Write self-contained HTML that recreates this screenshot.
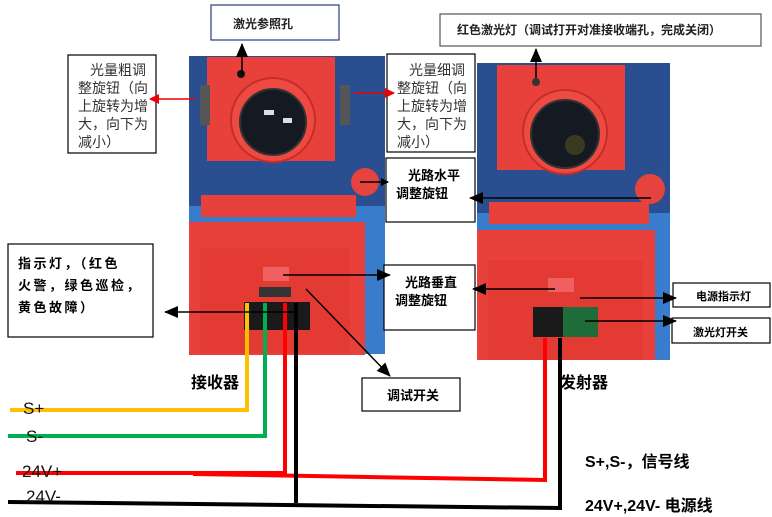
<!DOCTYPE html>
<html><head><meta charset="utf-8"><style>
html,body{margin:0;padding:0;background:#fff;width:772px;height:517px;overflow:hidden}
svg{display:block}
text{font-family:"Liberation Sans","Noto Sans CJK SC",sans-serif}
.b{font-weight:bold}
</style></head><body>
<svg width="772" height="517" viewBox="0 0 772 517" xmlns="http://www.w3.org/2000/svg">
<defs>
<marker id="ak" markerWidth="8" markerHeight="8" refX="7" refY="4" orient="auto" markerUnits="userSpaceOnUse"><path d="M0,0L8,4L0,8z" fill="#000"/></marker>
<marker id="ar" markerWidth="10" markerHeight="10" refX="9" refY="5" orient="auto" markerUnits="userSpaceOnUse"><path d="M0,0L10,5L0,10z" fill="#e00"/></marker>
<marker id="ab" markerWidth="14" markerHeight="12" refX="13" refY="6" orient="auto" markerUnits="userSpaceOnUse"><path d="M0,0L14,6L0,12z" fill="#000"/></marker>
</defs>
<!-- receiver photo -->
<rect x="189" y="56" width="196" height="298" fill="#3a7ccc"/>
<rect x="189" y="56" width="196" height="150" fill="#2a4f90"/>
<rect x="207" y="57" width="128" height="104" fill="#e8403a"/>
<rect x="200" y="85" width="10" height="40" fill="#555"/>
<rect x="340" y="85" width="10" height="40" fill="#555"/>
<circle cx="273" cy="120" r="42" fill="#ee4a42" stroke="#c42e2a" stroke-width="2"/>
<circle cx="273" cy="122" r="33" fill="#151a22" stroke="#333" stroke-width="2"/>
<rect x="264" y="110" width="10" height="5" fill="#ddd"/>
<rect x="283" y="118" width="9" height="5" fill="#ddd"/>
<circle cx="241" cy="74" r="4" fill="#111"/>
<circle cx="365" cy="182" r="14" fill="#e5433d"/>
<rect x="201" y="195" width="155" height="22" fill="#e8403a"/>
<rect x="189" y="222" width="176" height="133" fill="#e8403a"/>
<rect x="200" y="248" width="150" height="105" fill="#e33a34"/>
<rect x="263" y="267" width="26" height="14" fill="#f06060"/>
<rect x="244" y="302" width="66" height="28" fill="#1a1a1a"/>
<rect x="259" y="287" width="32" height="10" fill="#333"/>
<!-- transmitter photo -->
<rect x="477" y="63" width="193" height="297" fill="#3a7ccc"/>
<rect x="477" y="63" width="193" height="150" fill="#2a4f90"/>
<rect x="497" y="65" width="128" height="105" fill="#e8403a"/>
<circle cx="565" cy="132" r="42" fill="#ee4a42" stroke="#c42e2a" stroke-width="2"/>
<circle cx="565" cy="134" r="34" fill="#151a22" stroke="#333" stroke-width="2"/>
<circle cx="575" cy="145" r="10" fill="#3a3a20"/>
<circle cx="536" cy="82" r="4" fill="#333"/>
<circle cx="650" cy="189" r="15" fill="#e5433d"/>
<rect x="489" y="202" width="160" height="22" fill="#e8403a"/>
<rect x="477" y="230" width="178" height="130" fill="#e8403a"/>
<rect x="488" y="260" width="155" height="100" fill="#e33a34"/>
<rect x="548" y="278" width="26" height="14" fill="#f06060"/>
<rect x="533" y="307" width="65" height="30" fill="#1f6b3a"/>
<rect x="533" y="307" width="30" height="30" fill="#1a1a1a"/>
<!-- wires -->
<g fill="none" stroke-width="4">
<polyline points="10,410 247,410 247,303" stroke="#ffc000"/>
<polyline points="8,436 265,436 265,303" stroke="#00b050"/>
<polyline points="16,473 285,473 285,303" stroke="#f00"/>
<polyline points="193,474 545,480 545,338" stroke="#f00"/>
<polyline points="296,303 296,503" stroke="#000"/>
<polyline points="8,502 560,508 560,338" stroke="#000"/>
</g>
<!-- boxes -->
<g fill="#fff" stroke="#000" stroke-width="1.2">
<rect x="211" y="5" width="128" height="35" stroke="#2a3b80"/>
<rect x="440" y="14" width="321" height="32" stroke="#555"/>
<rect x="68" y="55" width="88" height="98"/>
<rect x="387" y="54" width="88" height="98"/>
<rect x="386" y="158" width="89" height="64"/>
<rect x="384" y="265" width="91" height="65"/>
<rect x="8" y="244" width="145" height="93"/>
<rect x="362" y="378" width="98" height="33"/>
<rect x="673" y="283" width="97" height="24"/>
<rect x="672" y="318" width="98" height="25"/>
</g>
<!-- arrows -->
<g stroke="#000" stroke-width="1.5" fill="none">
<line x1="242" y1="75" x2="242" y2="44" marker-end="url(#ab)"/>
<line x1="536" y1="78" x2="536" y2="49" marker-end="url(#ab)"/>
<line x1="360" y1="182" x2="388" y2="182" marker-end="url(#ak)"/>
<line x1="651" y1="198" x2="470" y2="198" marker-end="url(#ab)"/>
<line x1="283" y1="275" x2="390" y2="275" marker-end="url(#ab)"/>
<line x1="555" y1="289" x2="473" y2="289" marker-end="url(#ab)"/>
<line x1="297" y1="312" x2="165" y2="312" marker-end="url(#ab)"/>
<line x1="306" y1="289" x2="390" y2="376" marker-end="url(#ab)"/>
<line x1="580" y1="298" x2="676" y2="298" marker-end="url(#ab)"/>
<line x1="585" y1="321" x2="676" y2="321" marker-end="url(#ab)"/>
</g>
<g stroke="#e00" stroke-width="1.5">
<line x1="196" y1="99" x2="150" y2="99" marker-end="url(#ar)"/>
<line x1="354" y1="93" x2="394" y2="93" marker-end="url(#ar)"/>
</g>
<!-- text -->
<g font-size="13" fill="#222">
<text x="233" y="28" class="b" font-size="12">激光参照孔</text>
<text x="457" y="34" class="b" font-size="12">红色激光灯（调试打开对准接收端孔，完成关闭）</text>
</g>
<g font-size="14" fill="#333">
<text x="90" y="75">光量粗调</text>
<text x="78" y="93">整旋钮（向</text>
<text x="78" y="111">上旋转为增</text>
<text x="78" y="129">大，向下为</text>
<text x="78" y="147">减小）</text>
<text x="409" y="75">光量细调</text>
<text x="397" y="93">整旋钮（向</text>
<text x="397" y="111">上旋转为增</text>
<text x="397" y="129">大，向下为</text>
<text x="397" y="147">减小）</text>
</g>
<g class="b" font-size="13" fill="#000">
<text x="408" y="180">光路水平</text>
<text x="396" y="198">调整旋钮</text>
<text x="405" y="287">光路垂直</text>
<text x="395" y="305">调整旋钮</text>
<text x="18" y="268" letter-spacing="2.5">指示灯，（红色</text>
<text x="18" y="290" letter-spacing="2.5">火警，绿色巡检，</text>
<text x="18" y="312" letter-spacing="2.5">黄色故障）</text>
<text x="387" y="400">调试开关</text>
<text x="696" y="300" font-size="11">电源指示灯</text>
<text x="693" y="336" font-size="11">激光灯开关</text>
<text x="191" y="388" font-size="16">接收器</text>
<text x="560" y="388" font-size="16">发射器</text>
<text x="585" y="467" font-size="16">S+,S-，信号线</text>
<text x="585" y="511" font-size="16">24V+,24V-  电源线</text>
</g>
<g font-size="17" fill="#111">
<text x="23" y="414">S+</text>
<text x="26" y="442">S-</text>
<text x="22" y="477">24V+</text>
<text x="26" y="502">24V-</text>
</g>
</svg>
</body></html>
